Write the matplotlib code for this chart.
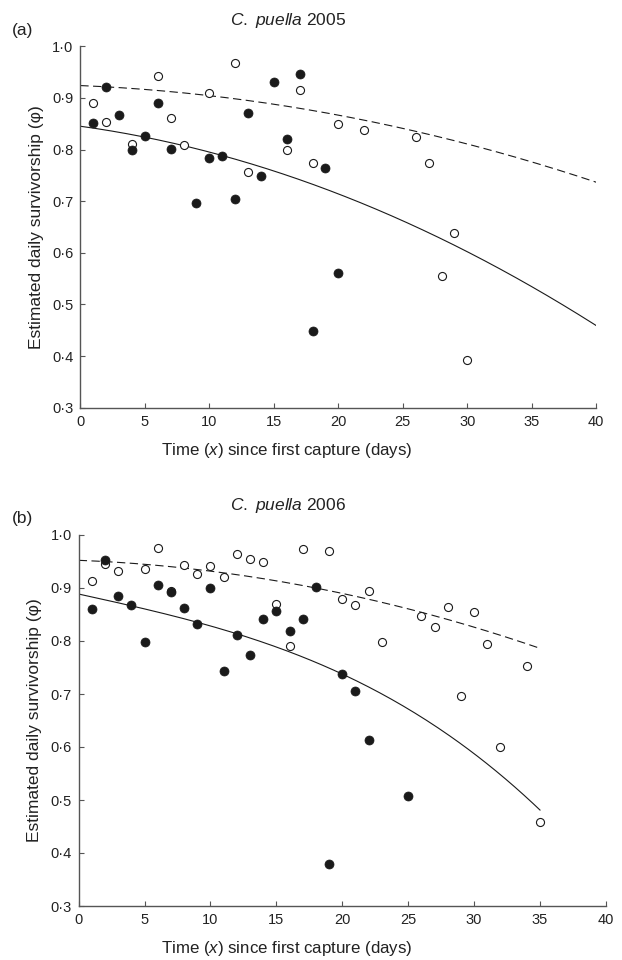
import numpy as np
import matplotlib
matplotlib.use("Agg")
import matplotlib.pyplot as plt

plt.rcParams['font.family'] = ['Liberation Sans', 'DejaVu Sans']
plt.rcParams['mathtext.fontset'] = 'custom'
plt.rcParams['mathtext.it'] = 'Liberation Sans:italic'
plt.rcParams['mathtext.rm'] = 'Liberation Sans'

# ---- Panel (a): C. puella 2005 ----
a_filled_x = [1, 2, 3, 4, 5, 6, 7, 9, 10, 11, 12, 13, 14, 15, 16, 17, 18, 19, 20]
a_filled_y = [0.852, 0.921, 0.867, 0.799, 0.827, 0.890, 0.802, 0.697, 0.783, 0.788,
              0.705, 0.871, 0.749, 0.930, 0.820, 0.946, 0.448, 0.764, 0.561]
a_open_x = [1, 2, 4, 6, 7, 8, 10, 12, 13, 16, 17, 18, 20, 22, 26, 27, 28, 29, 30]
a_open_y = [0.890, 0.853, 0.810, 0.942, 0.862, 0.809, 0.909, 0.967, 0.757, 0.799,
            0.915, 0.773, 0.849, 0.838, 0.824, 0.774, 0.555, 0.639, 0.392]
# fitted model curves, values at a few x positions
a_solid_x = [0, 19.4, 28.9, 36.4, 40]
a_solid_y = [0.846, 0.715, 0.622, 0.514, 0.457]
a_dashed_x = [0, 1.5, 20, 36.4, 40]
a_dashed_y = [0.925, 0.921, 0.867, 0.765, 0.737]

# ---- Panel (b): C. puella 2006 ----
b_filled_x = [1, 2, 3, 4, 5, 6, 7, 8, 9, 10, 11, 12, 13, 14, 15, 16, 17, 18, 19, 20,
              21, 22, 25]
b_filled_y = [0.860, 0.953, 0.884, 0.868, 0.799, 0.906, 0.893, 0.863, 0.833, 0.900,
              0.743, 0.811, 0.774, 0.842, 0.857, 0.818, 0.842, 0.902, 0.380, 0.738,
              0.706, 0.614, 0.508]
b_open_x = [1, 2, 3, 5, 6, 7, 8, 9, 10, 11, 12, 13, 14, 15, 16, 17, 19, 20, 21, 22,
            23, 26, 27, 28, 29, 30, 31, 32, 34, 35]
b_open_y = [0.914, 0.946, 0.933, 0.936, 0.975, 0.895, 0.943, 0.926, 0.941, 0.921,
            0.964, 0.955, 0.950, 0.869, 0.791, 0.973, 0.969, 0.879, 0.867, 0.894,
            0.798, 0.848, 0.826, 0.865, 0.696, 0.855, 0.794, 0.600, 0.752, 0.458]
b_solid_x = [0, 1.6, 9, 12, 20, 35]
b_solid_y = [0.887, 0.882, 0.835, 0.813, 0.738, 0.481]
b_dashed_x = [0, 10, 16.8, 26, 35]
b_dashed_y = [0.952, 0.933, 0.904, 0.855, 0.786]

titles = ["2005", "2006"]
panel_letters = ["(a)", "(b)"]
x_ticks = [0, 5, 10, 15, 20, 25, 30, 35, 40]
y_ticks = [0.3, 0.4, 0.5, 0.6, 0.7, 0.8, 0.9, 1.0]

W, H = 622, 960
fig = plt.figure(figsize=(W / 100, H / 100), dpi=100)

def px_axes(l, r, t, b):
    return [l / W, 1 - b / H, (r - l) / W, (b - t) / H]

axes_boxes = [px_axes(80.3, 596.3, 46.3, 407.7), px_axes(78.7, 605.9, 535, 906)]
title_y = [20, 505.5]
letter_y = [30, 519]
xlabel_y = [451, 949]

panels = [
    (a_filled_x, a_filled_y, a_open_x, a_open_y, (a_solid_x, a_solid_y, 2),
     (a_dashed_x, a_dashed_y, 2)),
    (b_filled_x, b_filled_y, b_open_x, b_open_y, (b_solid_x, b_solid_y, 3),
     (b_dashed_x, b_dashed_y, 2)),
]

ink = '#1a1a1a'
spine_c = '#555555'
txt_c = '#222222'

def smooth(cx, cy, deg):
    coef = np.polyfit(cx, cy, deg)
    xs = np.linspace(min(cx), max(cx), 200)
    return xs, np.polyval(coef, xs)

for i, (fx, fy, ox, oy, solid, dashed) in enumerate(panels):
    ax = fig.add_axes(axes_boxes[i])
    xs, ys = smooth(*solid)
    ax.plot(xs, ys, color=ink, lw=0.8, zorder=2)
    xs, ys = smooth(*dashed)
    ax.plot(xs, ys, color=ink, lw=0.8, linestyle=(0, (7.5, 4)), zorder=2)
    ax.plot(ox, oy, linestyle='none', marker='o', ms=5.8, mfc='white', mec=ink,
            mew=0.8, zorder=3)
    ax.plot(fx, fy, linestyle='none', marker='o', ms=6.5, mfc=ink, mec=ink,
            mew=0.5, zorder=4)
    ax.set_xlim(0, 40)
    ax.set_ylim(0.3, 1.0)
    ax.set_xticks(x_ticks)
    ax.set_xticklabels([str(t) for t in x_ticks])
    ax.set_yticks(y_ticks)
    ax.set_yticklabels([f"{t:.1f}".replace('.', '\u00b7') for t in y_ticks])
    for s in ['top', 'right']:
        ax.spines[s].set_visible(False)
    for s in ['left', 'bottom']:
        ax.spines[s].set_color(spine_c)
        ax.spines[s].set_linewidth(1.0)
    ax.tick_params(direction='in', length=3.6, width=0.8, color=spine_c,
                   labelsize=10.5, labelcolor=txt_c, pad=5)
    ax.set_ylabel('Estimated daily survivorship (\u03c6)', fontsize=12.5,
                  color=txt_c, labelpad=6)
    fig.text(286.5 / W, 1 - xlabel_y[i] / H,
             r'Time ($\mathit{x}$) since first capture (days)',
             ha='center', va='center', fontsize=12.2, color=txt_c)
    fig.text(288 / W, 1 - title_y[i] / H, r'$\mathit{C.\ puella}$ ' + titles[i],
             ha='center', va='center', fontsize=12.5, color=txt_c)
    fig.text(12 / W, 1 - letter_y[i] / H, panel_letters[i], ha='left', va='center',
             fontsize=12.5, color=txt_c)

fig.savefig('out.png', dpi=100)
